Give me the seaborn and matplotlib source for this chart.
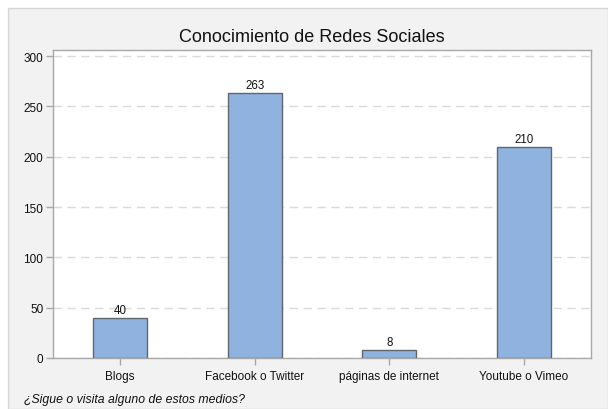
import matplotlib
matplotlib.use("Agg")
import matplotlib.pyplot as plt
import seaborn as sns
import pandas as pd
from matplotlib.patches import Rectangle

categories = ["Blogs", "Facebook o Twitter", "páginas de internet", "Youtube o Vimeo"]
values = [40, 263, 8, 210]
yticks = [0, 50, 100, 150, 200, 250, 300]

sns.set_theme(style="white")
plt.rcParams['font.family'] = ['Liberation Sans', 'DejaVu Sans']

df = pd.DataFrame({"cat": categories, "val": values})

fig = plt.figure(figsize=(6.08, 4.10), dpi=100)
fig.patch.set_facecolor("white")
bg = Rectangle((8/608, 0), 1 - 8/608, 1 - 9/410, transform=fig.transFigure,
               facecolor="#f2f2f2", edgecolor="#d6d6d6", linewidth=1, zorder=-10)
fig.patches.append(bg)

ax = fig.add_axes([53/608, 1 - 359/410, (591-53)/608, (359-51)/410])
ax.set_facecolor("white")
sns.barplot(data=df, x="cat", y="val", ax=ax, color="#8fb3de", width=0.40,
            edgecolor="#5e6670", linewidth=1.0, saturation=1, zorder=3)
ax.set_xlim(-0.5, 3.5)
ax.set_ylim(0, 306)
ax.set_yticks(yticks)
ax.yaxis.grid(True, linestyle=(0, (6, 4)), color="#dadada", linewidth=1, zorder=0)
ax.set_axisbelow(True)
ax.set_xlabel("")
ax.set_ylabel("")
for s in ax.spines.values():
    s.set_color("#a8a8a8")
    s.set_linewidth(1)
ax.tick_params(axis="both", which="both", length=5, width=1, color="#a8a8a8",
               labelsize=8.5, labelcolor="#111111", pad=2)
ax.tick_params(axis="x", pad=4)
ax.tick_params(axis="y", left=True)
ax.tick_params(axis="x", bottom=True)

for i, v in enumerate(values):
    ax.text(i, v + 2, str(v), ha="center", va="bottom", fontsize=8.3, color="#111111")

fig.text(312/608, 1 - 37/410, "Conocimiento de Redes Sociales", ha="center", va="center",
         fontsize=13, color="#111111")
fig.text(24/608, 1 - 400/410, "¿Sigue o visita alguno de estos medios?", ha="left", va="center",
         fontsize=8.8, style="italic", color="#111111")

fig.savefig("out.png", dpi=100)
